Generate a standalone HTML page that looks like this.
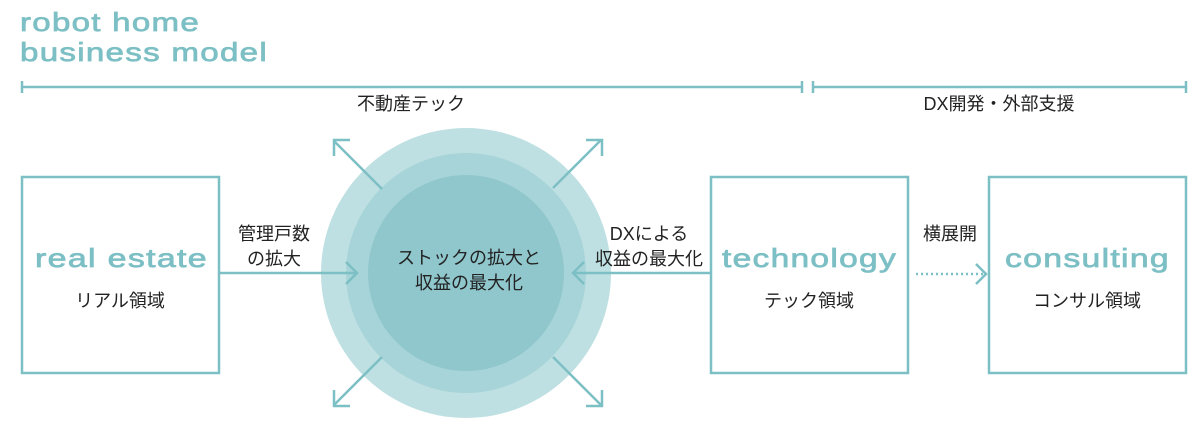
<!DOCTYPE html>
<html><head><meta charset="utf-8"><style>
html,body{margin:0;padding:0;background:#fff;width:1200px;height:447px;overflow:hidden}
svg text{font-family:"Liberation Sans","Noto Sans CJK JP",sans-serif}
.en{fill:#7cbfc4;stroke:#7cbfc4;stroke-width:0.7;letter-spacing:1px}
.jp{fill:#222;font-size:18px}
</style></head><body>
<svg width="1200" height="447" viewBox="0 0 1200 447" xmlns="http://www.w3.org/2000/svg">
<text x="20" y="31" class="en" font-size="26" textLength="180" lengthAdjust="spacingAndGlyphs">robot home</text>
<text x="20" y="61" class="en" font-size="26" textLength="248" lengthAdjust="spacingAndGlyphs">business model</text>
<g stroke="#7cbfc4" stroke-width="2.5" fill="none">
<line x1="22" y1="87" x2="802" y2="87"/><line x1="22" y1="81" x2="22" y2="93"/><line x1="802" y1="81" x2="802" y2="93"/>
<line x1="813" y1="87" x2="1186" y2="87"/><line x1="813" y1="81" x2="813" y2="93"/><line x1="1186" y1="81" x2="1186" y2="93"/>
</g>
<text x="411" y="110" text-anchor="middle" class="jp">不動産テック</text>
<text x="999" y="110" text-anchor="middle" class="jp">DX開発・外部支援</text>
<circle cx="466" cy="273" r="145" fill="#bfe0e2"/>
<circle cx="466" cy="273" r="120" fill="#a7d4d8"/>
<circle cx="466" cy="273" r="98" fill="#8fc7cd"/>
<g stroke="#7cbfc4" stroke-width="2.5" fill="none">
<rect x="22" y="177" width="197" height="196"/>
<rect x="711" y="177" width="197" height="196"/>
<rect x="989" y="177" width="197" height="196"/>
<line x1="219" y1="273" x2="357" y2="273"/><polyline points="346,262 357,273 346,284"/>
<line x1="711" y1="273" x2="573" y2="273"/><polyline points="584,262 573,273 584,284"/>
<line x1="916" y1="274" x2="984" y2="274" stroke-dasharray="2 3"/><polyline points="976,264 986,274 976,284"/>
<line x1="382" y1="189" x2="334" y2="141"/><polyline points="334,156 334,140 350,140"/>
<line x1="553" y1="188" x2="601" y2="140"/><polyline points="586,140 602,140 602,156"/>
<line x1="382" y1="357" x2="334" y2="405"/><polyline points="334,390 334,406 350,406"/>
<line x1="553" y1="357" x2="601" y2="405"/><polyline points="586,406 602,406 602,390"/>
</g>
<text x="35" y="267" class="en" font-size="26" textLength="173" lengthAdjust="spacingAndGlyphs">real estate</text>
<text x="120" y="307" text-anchor="middle" class="jp">リアル領域</text>
<text x="722" y="267" class="en" font-size="26" textLength="175" lengthAdjust="spacingAndGlyphs">technology</text>
<text x="809" y="307" text-anchor="middle" class="jp">テック領域</text>
<text x="1005" y="267" class="en" font-size="26" textLength="165" lengthAdjust="spacingAndGlyphs">consulting</text>
<text x="1087" y="307" text-anchor="middle" class="jp">コンサル領域</text>
<text x="274" y="240" text-anchor="middle" class="jp">管理戸数</text>
<text x="274" y="265" text-anchor="middle" class="jp">の拡大</text>
<text x="649" y="240" text-anchor="middle" class="jp">DXによる</text>
<text x="649" y="265" text-anchor="middle" class="jp">収益の最大化</text>
<text x="950" y="240" text-anchor="middle" class="jp">横展開</text>
<text x="469" y="264" text-anchor="middle" class="jp">ストックの拡大と</text>
<text x="469" y="289" text-anchor="middle" class="jp">収益の最大化</text>
</svg>
</body></html>
